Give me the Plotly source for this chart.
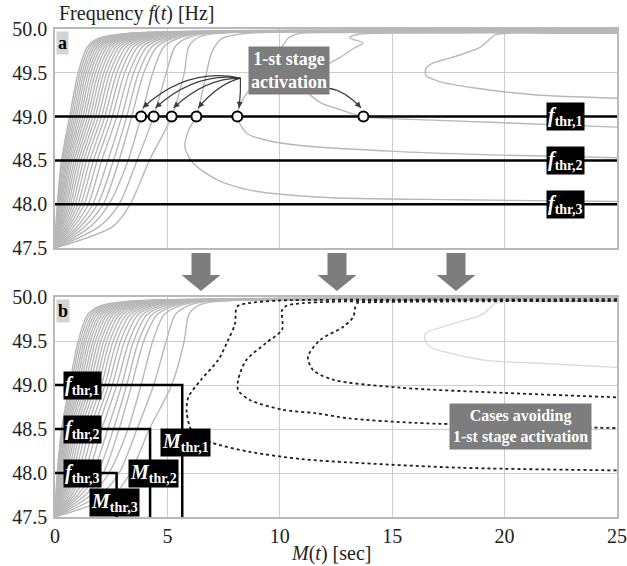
import plotly.graph_objects as go

# ---------------- data ----------------
M_MAX = 25
F_LEVELS = [47.5, 47.75, 48.0, 48.5, 49.0, 49.5, 49.8, 49.9, 49.95]
# Fan curves: M at F_LEVELS[1:], last value = frequency reached at M = 25
FAN = [
    [0.04, 0.10, 0.29, 0.65, 1.03, 1.45, 2.00, 3.20, 49.990],
    [0.05, 0.12, 0.33, 0.72, 1.11, 1.55, 2.12, 3.35, 49.988],
    [0.06, 0.15, 0.38, 0.80, 1.20, 1.66, 2.25, 3.50, 49.986],
    [0.07, 0.18, 0.43, 0.88, 1.29, 1.76, 2.38, 3.65, 49.984],
    [0.09, 0.21, 0.49, 0.96, 1.38, 1.87, 2.50, 3.80, 49.982],
    [0.11, 0.25, 0.55, 1.05, 1.48, 1.98, 2.63, 3.95, 49.980],
    [0.13, 0.29, 0.61, 1.14, 1.58, 2.09, 2.76, 4.10, 49.978],
    [0.15, 0.34, 0.68, 1.24, 1.69, 2.21, 2.90, 4.25, 49.976],
    [0.18, 0.39, 0.76, 1.34, 1.80, 2.33, 3.04, 4.40, 49.974],
    [0.21, 0.45, 0.85, 1.45, 1.92, 2.46, 3.18, 4.55, 49.972],
    [0.25, 0.52, 0.94, 1.56, 2.04, 2.59, 3.32, 4.70, 49.970],
    [0.29, 0.60, 1.04, 1.68, 2.17, 2.73, 3.47, 4.85, 49.968],
    [0.34, 0.69, 1.15, 1.80, 2.30, 2.87, 3.62, 5.00, 49.966],
    [0.40, 0.79, 1.27, 1.93, 2.44, 3.02, 3.78, 5.15, 49.964],
    [0.47, 0.90, 1.40, 2.07, 2.59, 3.18, 3.95, 5.30, 49.962],
    [0.55, 1.02, 1.55, 2.22, 2.75, 3.35, 4.12, 5.45, 49.960],
    [0.64, 1.15, 1.71, 2.38, 2.92, 3.52, 4.30, 5.60, 49.958],
    [0.74, 1.30, 1.88, 2.55, 3.10, 3.70, 4.48, 5.75, 49.957],
    [0.86, 1.48, 2.08, 2.75, 3.30, 3.90, 4.68, 5.90, 49.956],
    [1.00, 1.68, 2.35, 2.97, 3.50, 4.10, 4.88, 6.05, 49.955],
    [1.15, 1.90, 2.60, 3.19, 3.72, 4.32, 5.10, 6.20, 49.954],
    [1.35, 2.15, 2.85, 3.41, 3.95, 4.55, 5.30, 6.40, 49.953],
    [1.60, 2.40, 3.25, 3.83, 4.35, 4.85, 5.55, 6.60, 49.952],
    [2.00, 2.85, 3.65, 4.39, 4.95, 5.35, 5.90, 6.90, 49.951],
    [2.60, 3.35, 4.20, 5.19, 5.75, 5.95, 6.35, 7.20, 49.950],
]

# Panel a: returning (C-shaped) trajectories
CA1_M = [25, 12, 8.5, 7.41, 6.97, 6.75, 6.52, 6.29, 5.95, 5.78, 6.14, 7.2, 8.67, 11.8, 18, 25]
CA1_F = [49.97, 49.965, 49.95, 49.89, 49.73, 49.51, 49.24, 49.0, 48.85, 48.65, 48.47, 48.28, 48.16, 48.08, 48.05, 48.03]
CA2_M = [25, 13, 10.9, 10.4, 10.1, 9.8, 9.3, 8.8, 8.3, 8.11, 8.53, 9.42, 10.9, 15.35, 19.8, 25]
CA2_F = [49.965, 49.96, 49.95, 49.9, 49.8, 49.7, 49.55, 49.36, 49.17, 49.0, 48.81, 48.73, 48.67, 48.60, 48.56, 48.53]
CA3_M = [25, 16, 13.5, 13.1, 13.7, 13.3, 12.7, 12.0, 11.3, 11.2, 11.8, 12.7, 13.72, 16.8, 25]
CA3_F = [49.96, 49.955, 49.94, 49.90, 49.84, 49.78, 49.68, 49.58, 49.45, 49.30, 49.16, 49.08, 49.0, 48.96, 48.88]
CA4_M = [25, 21, 19.6, 19.5, 18.9, 17.6, 16.8, 16.5, 16.5, 17.1, 18.6, 21.3, 25]
CA4_F = [49.975, 49.965, 49.935, 49.92, 49.79, 49.67, 49.61, 49.55, 49.47, 49.40, 49.33, 49.25, 49.21]

# Panel b: cases avoiding 1-st stage activation (dotted) and remaining light curve
DB1_M = [25, 15, 10, 8.6, 8.1, 8.0, 7.7, 7.25, 6.5, 5.93, 5.86, 6.15, 7.03, 8.67, 10.9, 13.1, 18, 25]
DB1_F = [49.975, 49.97, 49.96, 49.93, 49.89, 49.69, 49.51, 49.28, 49.06, 48.86, 48.68, 48.45, 48.34, 48.24, 48.16, 48.12, 48.06, 48.03]
DB2_M = [25, 15, 11, 10.3, 10.1, 10.1, 9.4, 8.5, 8.15, 8.15, 8.67, 10.1, 11.6, 13.1, 16, 20, 25]
DB2_F = [49.965, 49.96, 49.93, 49.9, 49.85, 49.63, 49.48, 49.28, 49.06, 48.94, 48.83, 48.72, 48.68, 48.62, 48.57, 48.54, 48.51]
DB3_M = [25, 18, 14, 13.43, 13.26, 12.81, 11.79, 11.25, 11.48, 12.37, 15.35, 20, 25]
DB3_F = [49.955, 49.95, 49.94, 49.93, 49.77, 49.66, 49.51, 49.32, 49.17, 49.06, 48.97, 48.91, 48.86]
LB_M = [25, 21, 19.6, 19.5, 18.99, 18.0, 17.26, 16.5, 16.46, 16.7, 17.6, 19.2, 21.3, 25]
LB_F = [49.975, 49.96, 49.93, 49.91, 49.80, 49.72, 49.66, 49.59, 49.51, 49.43, 49.36, 49.28, 49.25, 49.20]

F_THR = [49.0, 48.5, 48.0]
M_THR = [5.66, 4.23, 2.74]
THR_NAMES = ["thr,1", "thr,2", "thr,3"]
M_ACT = [3.83, 4.39, 5.19, 6.29, 8.11, 13.72]
X_TICKS = [0, 5, 10, 15, 20, 25]
Y_TICKS = [47.5, 48.0, 48.5, 49.0, 49.5, 50.0]

# ---------------- layout helpers ----------------
W, H, L, R = 627, 566, 55, 10
FONT = "Liberation Serif, Times New Roman, DejaVu Serif, serif"
GRAY = "rgb(184,184,184)"


def px_x(px):
    return (px - L) / (W - L - R)


def px_y(py):
    return (H - py) / H


DOM_A = [px_y(248), px_y(29)]
DOM_B = [px_y(517), px_y(297)]

fig = go.Figure()


def add_line(xs, ys, xa, ya, color=GRAY, width=1.4, dash="solid", shape="spline"):
    fig.add_trace(go.Scatter(x=xs, y=ys, mode="lines", xaxis=xa, yaxis=ya,
                             line=dict(color=color, width=width, dash=dash, shape=shape, smoothing=0.8),
                             hoverinfo="skip", showlegend=False))


for xa, ya in (("x", "y"), ("x2", "y2")):
    for row in FAN:
        xs = [0] + row[:8] + [M_MAX]
        ys = F_LEVELS + [row[8]]
        add_line(xs, ys, xa, ya)

# panel a extra curves
for ms, fs in ((CA1_M, CA1_F), (CA2_M, CA2_F), (CA3_M, CA3_F), (CA4_M, CA4_F)):
    add_line(ms, fs, "x", "y")
# panel a thresholds
for f in F_THR:
    add_line([0, M_MAX], [f, f], "x", "y", color="black", width=2.5, shape="linear")
fig.add_trace(go.Scatter(x=M_ACT, y=[F_THR[0]] * len(M_ACT), mode="markers", xaxis="x", yaxis="y",
                         marker=dict(size=10, color="white", line=dict(color="black", width=2)),
                         hoverinfo="skip", showlegend=False))

# panel b curves
add_line(LB_M, LB_F, "x2", "y2", color="rgb(218,218,218)", width=1.3)
for ms, fs in ((DB1_M, DB1_F), (DB2_M, DB2_F), (DB3_M, DB3_F)):
    add_line(ms, fs, "x2", "y2", color="rgb(30,30,30)", width=1.8, dash="dot")
for f, m in zip(F_THR, M_THR):
    add_line([0, m, m], [f, f, 47.5], "x2", "y2", color="black", width=2.5, shape="linear")

# ---------------- axes ----------------
axis_common = dict(showgrid=True, gridcolor="rgb(205,205,205)", gridwidth=1, zeroline=False,
                   showline=True, mirror=True, linecolor="rgb(185,185,185)", linewidth=1.5,
                   automargin=False, ticks="", tickfont=dict(family=FONT, size=20, color="#222"))
fig.update_layout(
    template="none",
    xaxis=dict(domain=[0, 1], range=[0, M_MAX], tickvals=X_TICKS, showticklabels=False, anchor="y", **axis_common),
    yaxis=dict(domain=DOM_A, range=[47.5, 50], tickvals=Y_TICKS, tickformat=".1f", anchor="x",
               ticklabelstandoff=2, **axis_common),
    xaxis2=dict(domain=[0, 1], range=[0, M_MAX], tickvals=X_TICKS, anchor="y2", ticklabelstandoff=0, **axis_common),
    yaxis2=dict(domain=DOM_B, range=[47.5, 50], tickvals=Y_TICKS, tickformat=".1f", anchor="x2",
                ticklabelstandoff=2, **axis_common),
    width=W, height=H, margin=dict(l=L, r=R, t=0, b=0, pad=0, autoexpand=False),
    paper_bgcolor="white", plot_bgcolor="white", showlegend=False,
    font=dict(family=FONT, size=19, color="#222"),
)

ann = []
shapes = []
# axis titles
ann.append(dict(text="Frequency <i>f</i>(<i>t</i>) [Hz]", xref="paper", yref="paper", x=px_x(57), y=px_y(13),
                xanchor="left", yanchor="middle", showarrow=False, font=dict(family=FONT, size=20, color="#222")))
ann.append(dict(text="<i>M</i>(<i>t</i>) [sec]", xref="paper", yref="paper", x=px_x(331), y=px_y(553),
                xanchor="center", yanchor="middle", showarrow=False, font=dict(family=FONT, size=20, color="#222")))
# panel letters
for letter, xr, yr in (("a", "x", "y"), ("b", "x2", "y2")):
    ann.append(dict(text="<b>%s</b>" % letter, xref=xr, yref=yr, x=0, y=50, xanchor="left", yanchor="top",
                    xshift=1, yshift=-2, showarrow=False, bgcolor="rgb(212,212,212)", borderpad=1,
                    font=dict(family=FONT, size=18, color="black")))
# threshold labels panel a
for f, nm in zip(F_THR, THR_NAMES):
    ann.append(dict(text="<b><i>f</i><sub>%s</sub></b>" % nm, xref="x", yref="y", x=22.7, y=f,
                    showarrow=False, bgcolor="black", borderpad=1, font=dict(family=FONT, size=20, color="white")))
# threshold labels panel b
for f, nm in zip(F_THR, THR_NAMES):
    ann.append(dict(text="<b><i>f</i><sub>%s</sub></b>" % nm, xref="x2", yref="y2", x=1.22, y=f,
                    showarrow=False, bgcolor="black", borderpad=1, font=dict(family=FONT, size=20, color="white")))
for (mx, fy), nm in zip(((5.8, 48.35), (4.36, 48.0), (2.65, 47.66)), THR_NAMES):
    ann.append(dict(text="<b><i>M</i><sub>%s</sub></b>" % nm, xref="x2", yref="y2", x=mx, y=fy,
                    showarrow=False, bgcolor="black", borderpad=1, font=dict(family=FONT, size=20, color="white")))
# text boxes
ann.append(dict(text="<b>1-st stage<br>activation</b>", xref="x", yref="y", x=10.39, y=49.526,
                showarrow=False, bgcolor="rgb(125,125,125)", borderpad=2,
                font=dict(family=FONT, size=18, color="white")))
ann.append(dict(text="<b>Cases avoiding<br>1-st stage activation</b>", xref="x2", yref="y2", x=20.69, y=48.534,
                showarrow=False, bgcolor="rgb(125,125,125)", borderpad=3,
                font=dict(family=FONT, size=16, color="white")))

# curved arrows from the text box to activation points
SX, SY = 8.25, 49.44
ctrl = [(5.87, 49.566), (6.23, 49.509), (6.67, 49.44), (7.25, 49.372), (8.27, 49.281)]
starts = [(SX, SY)] * 5 + [(12.14, 49.326)]
ctrl = ctrl + [(12.9, 49.30)]
for i, m in enumerate(M_ACT):
    sx, sy = starts[i]
    cx, cy = ctrl[i]
    tx, ty = m + (0.08 if i < 5 else -0.11), F_THR[0] + 0.10
    shapes.append(dict(type="path", xref="x", yref="y",
                       path="M %f,%f Q %f,%f %f,%f" % (sx, sy, cx, cy, tx, ty),
                       line=dict(color="rgb(60,60,60)", width=1.2)))
    dx = (cx - tx) * 22.48
    dy = -(cy - ty) * 87.6
    n = (dx * dx + dy * dy) ** 0.5
    ann.append(dict(text="", xref="x", yref="y", x=tx, y=ty, ax=dx / n * 7, ay=dy / n * 7,
                    showarrow=True, arrowhead=2, arrowsize=1, arrowwidth=1.2,
                    arrowcolor="rgb(60,60,60)", standoff=0))

# big down arrows between panels
for cx in (201, 337, 456):
    pts = [(cx - 9.5, 253), (cx + 9.5, 253), (cx + 9.5, 275), (cx + 19.5, 275), (cx, 291),
           (cx - 19.5, 275), (cx - 9.5, 275)]
    path = "M " + " L ".join("%f,%f" % (px_x(a), px_y(b)) for a, b in pts) + " Z"
    shapes.append(dict(type="path", xref="paper", yref="paper", path=path,
                       fillcolor="rgb(125,125,125)", line=dict(width=0)))

fig.update_layout(annotations=ann, shapes=shapes)
fig.write_html("out.html")
